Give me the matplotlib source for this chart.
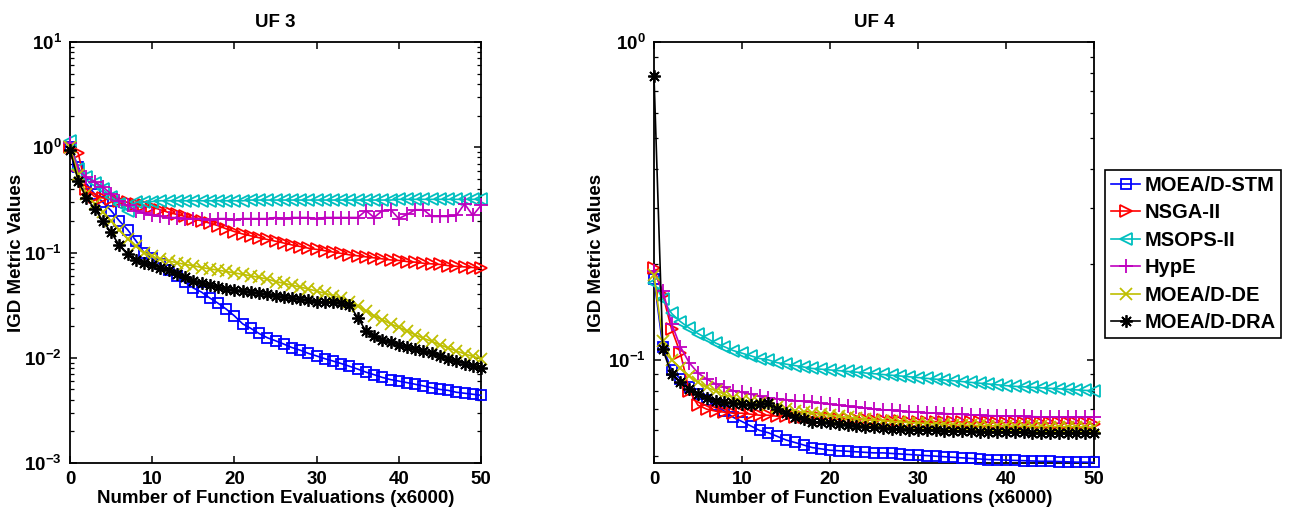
import matplotlib
matplotlib.use("Agg")
import matplotlib.pyplot as plt
from matplotlib.ticker import FuncFormatter, LogLocator, NullFormatter, FixedLocator

# ---------------- data ----------------
evals = list(range(51))  # x (x6000)

names = ["MOEA/D-STM", "NSGA-II", "MSOPS-II", "HypE", "MOEA/D-DE", "MOEA/D-DRA"]

# UF 3
stm3 = [1.0, 0.65, 0.45, 0.36, 0.30, 0.25, 0.20, 0.165, 0.13, 0.10,
        0.088, 0.077, 0.068, 0.060, 0.052, 0.046, 0.042, 0.037, 0.033, 0.029,
        0.025, 0.021, 0.019, 0.017, 0.0155, 0.0145, 0.0135, 0.0125, 0.0118, 0.011,
        0.0104, 0.0098, 0.0093, 0.0088, 0.0083, 0.0078, 0.0073, 0.0069, 0.0065, 0.0062,
        0.0060, 0.0058, 0.0056, 0.0054, 0.0052, 0.0050, 0.0049, 0.0047, 0.0046, 0.0045, 0.0044]
nsga3 = [1.0, 0.88, 0.40, 0.34, 0.33, 0.32, 0.31, 0.30, 0.29, 0.28,
         0.27, 0.255, 0.24, 0.23, 0.22, 0.21, 0.20, 0.19, 0.18, 0.168,
         0.158, 0.150, 0.144, 0.138, 0.133, 0.128, 0.123, 0.118, 0.114, 0.110,
         0.107, 0.104, 0.101, 0.098, 0.095, 0.093, 0.091, 0.089, 0.087, 0.085,
         0.084, 0.082, 0.081, 0.079, 0.078, 0.077, 0.075, 0.074, 0.073, 0.072, 0.071]
msops3 = [1.15, 0.62, 0.52, 0.46, 0.40, 0.34, 0.29, 0.25, 0.30, 0.30,
          0.305, 0.31, 0.31, 0.31, 0.31, 0.31, 0.31, 0.31, 0.31, 0.31,
          0.31, 0.31, 0.315, 0.315, 0.315, 0.315, 0.315, 0.315, 0.315, 0.315,
          0.315, 0.315, 0.315, 0.315, 0.315, 0.315, 0.315, 0.315, 0.315, 0.315,
          0.32, 0.32, 0.32, 0.32, 0.32, 0.32, 0.32, 0.32, 0.32, 0.32, 0.32]
hype3 = [1.1, 0.60, 0.52, 0.47, 0.42, 0.36, 0.31, 0.28, 0.25, 0.235,
         0.225, 0.22, 0.215, 0.215, 0.21, 0.21, 0.21, 0.205, 0.21, 0.21,
         0.205, 0.21, 0.21, 0.21, 0.21, 0.215, 0.21, 0.215, 0.215, 0.215,
         0.21, 0.215, 0.215, 0.215, 0.215, 0.215, 0.25, 0.215, 0.25, 0.255,
         0.21, 0.23, 0.255, 0.255, 0.22, 0.22, 0.22, 0.225, 0.29, 0.225, 0.28]
de3 = [1.0, 0.55, 0.36, 0.29, 0.24, 0.20, 0.165, 0.135, 0.115, 0.10,
       0.092, 0.087, 0.083, 0.080, 0.077, 0.075, 0.072, 0.070, 0.068, 0.066,
       0.064, 0.062, 0.060, 0.058, 0.056, 0.053, 0.051, 0.049, 0.047, 0.045,
       0.043, 0.041, 0.039, 0.037, 0.034, 0.031, 0.028, 0.025, 0.023, 0.021,
       0.0195, 0.018, 0.0165, 0.0153, 0.0143, 0.0133, 0.0124, 0.0116, 0.0109, 0.0103, 0.0098]
dra3 = [0.95, 0.48, 0.33, 0.26, 0.20, 0.155, 0.117, 0.096, 0.085, 0.079,
        0.076, 0.072, 0.068, 0.063, 0.058, 0.054, 0.051, 0.049, 0.047, 0.045,
        0.044, 0.043, 0.042, 0.041, 0.040, 0.039, 0.038, 0.037, 0.036, 0.035,
        0.034, 0.034, 0.034, 0.033, 0.032, 0.024, 0.018, 0.016, 0.0148, 0.014,
        0.0133, 0.0127, 0.0121, 0.0115, 0.011, 0.0104, 0.0098, 0.0093, 0.0088, 0.0084, 0.0080]

# UF 4
stm4 = [0.18, 0.11, 0.093, 0.087, 0.082, 0.078, 0.075, 0.072, 0.069, 0.066,
        0.064, 0.062, 0.060, 0.059, 0.0575, 0.056, 0.055, 0.054, 0.053, 0.0525,
        0.052, 0.0518, 0.0516, 0.0514, 0.0512, 0.051, 0.051, 0.0508, 0.0506, 0.0504,
        0.0502, 0.050, 0.0498, 0.0496, 0.0494, 0.0492, 0.049, 0.0488, 0.0486, 0.0485,
        0.0484, 0.0483, 0.0482, 0.0481, 0.048, 0.048, 0.0479, 0.0478, 0.0477, 0.0477, 0.0476]
nsga4 = [0.195, 0.16, 0.125, 0.105, 0.08, 0.072, 0.070, 0.069, 0.0685, 0.068,
         0.068, 0.0675, 0.067, 0.067, 0.0665, 0.0665, 0.066, 0.066, 0.066, 0.0655,
         0.0655, 0.065, 0.065, 0.065, 0.065, 0.0648, 0.0646, 0.0644, 0.0642, 0.064,
         0.064, 0.064, 0.064, 0.064, 0.064, 0.0638, 0.0638, 0.0636, 0.0636, 0.0635,
         0.0635, 0.0634, 0.0634, 0.0633, 0.0633, 0.0632, 0.0632, 0.0632, 0.0631, 0.0631, 0.063]
msops4 = [0.175, 0.155, 0.14, 0.132, 0.126, 0.121, 0.117, 0.113, 0.110, 0.107,
          0.105, 0.103, 0.101, 0.100, 0.098, 0.097, 0.096, 0.095, 0.094, 0.0935,
          0.093, 0.0925, 0.092, 0.0915, 0.091, 0.0905, 0.09, 0.0895, 0.089, 0.0885,
          0.088, 0.0875, 0.087, 0.0865, 0.086, 0.0855, 0.085, 0.0845, 0.084, 0.0835,
          0.083, 0.0826, 0.0823, 0.082, 0.0817, 0.0814, 0.0811, 0.0808, 0.0805, 0.0802, 0.080]
hype4 = [0.19, 0.165, 0.13, 0.11, 0.098, 0.091, 0.087, 0.084, 0.082, 0.080,
         0.079, 0.078, 0.077, 0.076, 0.0755, 0.075, 0.0745, 0.074, 0.0735, 0.073,
         0.0725, 0.072, 0.0715, 0.071, 0.0705, 0.070, 0.0697, 0.0694, 0.0691, 0.0688,
         0.0685, 0.0682, 0.068, 0.0678, 0.0676, 0.0674, 0.0672, 0.067, 0.0668, 0.0667,
         0.0666, 0.0665, 0.0664, 0.0663, 0.0662, 0.0661, 0.066, 0.066, 0.066, 0.066, 0.066]
de4 = [0.185, 0.115, 0.10, 0.094, 0.089, 0.085, 0.082, 0.080, 0.078, 0.076,
       0.075, 0.074, 0.073, 0.072, 0.071, 0.070, 0.069, 0.0685, 0.068, 0.0675,
       0.067, 0.0665, 0.066, 0.0655, 0.065, 0.0647, 0.0644, 0.0641, 0.0638, 0.0635,
       0.0633, 0.0631, 0.0629, 0.0627, 0.0625, 0.0624, 0.0623, 0.0622, 0.0621, 0.062,
       0.062, 0.0619, 0.0619, 0.0618, 0.0618, 0.0617, 0.0617, 0.0616, 0.0616, 0.0615, 0.0615]
dra4 = [0.78, 0.108, 0.090, 0.085, 0.081, 0.078, 0.076, 0.0745, 0.0735, 0.073,
        0.0725, 0.072, 0.0725, 0.073, 0.070, 0.068, 0.066, 0.065, 0.064, 0.0637,
        0.0635, 0.063, 0.0625, 0.062, 0.0617, 0.0614, 0.0611, 0.0608, 0.0606, 0.0604,
        0.0603, 0.0601, 0.060, 0.0599, 0.0598, 0.0597, 0.0596, 0.0595, 0.0594, 0.0593,
        0.0593, 0.0592, 0.0592, 0.0591, 0.0591, 0.059, 0.059, 0.059, 0.059, 0.059, 0.059]

uf3 = [stm3, nsga3, msops3, hype3, de3, dra3]
uf4 = [stm4, nsga4, msops4, hype4, de4, dra4]

colors = [(0, 0, 1), (1, 0, 0), (0, 0.75, 0.75), (0.75, 0, 0.75), (0.75, 0.75, 0), (0, 0, 0)]
markers = ["s", ">", "<", "+", "x", (8, 2, 0)]
msizes = [7, 8, 8, 10, 8, 9]

# ---------------- style ----------------
plt.rcParams["font.family"] = ["Liberation Sans", "DejaVu Sans"]
plt.rcParams["font.weight"] = "bold"
plt.rcParams["mathtext.fontset"] = "custom"
plt.rcParams["mathtext.rm"] = "Liberation Sans:bold"
plt.rcParams["mathtext.bf"] = "Liberation Sans:bold"
FS = 13.5
LFS = 14.5

fig = plt.figure(figsize=(12.91, 5.12), dpi=100)
ax1 = fig.add_axes([70 / 1291, 1 - 463 / 512, 411 / 1291, 421 / 512])
ax2 = fig.add_axes([654 / 1291, 1 - 463 / 512, 440 / 1291, 421 / 512])


def logfmt(v, pos):
    import math
    e = int(round(math.log10(v)))
    return r"$\mathbf{10^{%d}}$" % e


handles = []
for ax, data, title, ylim, majors in [
    (ax1, uf3, "UF 3", (1e-3, 10), [1e-3, 1e-2, 1e-1, 1, 10]),
    (ax2, uf4, "UF 4", (0.0474, 1.0), [0.1, 1.0]),
]:
    for i, ys in enumerate(data):
        open_marker = markers[i] in ("s", ">", "<")
        (ln,) = ax.plot(evals, ys, color=colors[i], marker=markers[i],
                        markersize=msizes[i],
                        markerfacecolor="none" if open_marker else colors[i],
                        markeredgecolor=colors[i], markeredgewidth=1.3, linewidth=1.2,
                        label=names[i], clip_on=False, zorder=3 + i)
        if ax is ax1:
            handles.append(ln)
    ax.set_yscale("log")
    ax.set_xlim(0, 50)
    ax.set_ylim(*ylim)
    ax.set_xticks([0, 10, 20, 30, 40, 50])
    ax.yaxis.set_major_locator(FixedLocator(majors))
    ax.yaxis.set_major_formatter(FuncFormatter(logfmt))
    ax.yaxis.set_minor_locator(LogLocator(base=10, subs=(2, 3, 4, 5, 6, 7, 8, 9), numticks=20))
    ax.yaxis.set_minor_formatter(NullFormatter())
    ax.tick_params(which="both", direction="in", top=True, right=True)
    ax.tick_params(which="major", length=5, width=1.1, labelsize=FS, pad=6)
    ax.tick_params(which="minor", length=3, width=0.9)
    for lab in ax.get_xticklabels():
        lab.set_fontweight("bold")
    for sp in ax.spines.values():
        sp.set_linewidth(1.3)
    ax.set_title(title, fontsize=FS, fontweight="bold", pad=11)
    ax.set_xlabel("Number of Function Evaluations (x6000)", fontsize=FS,
                  fontweight="bold", labelpad=1)
    ax.set_ylabel("IGD Metric Values", fontsize=FS, fontweight="bold")

ax1.yaxis.set_label_coords((25 - 70) / 411, 0.5)
ax2.yaxis.set_label_coords((605 - 654) / 440, 0.5)

leg = fig.legend(handles=handles, loc="upper left", bbox_to_anchor=(1105 / 1291, 1 - 170 / 512),
                 frameon=True, fancybox=False, edgecolor="black",
                 framealpha=1, borderpad=0.3, handlelength=1.45, handletextpad=0.2,
                 labelspacing=0.42, borderaxespad=0, prop={"weight": "bold", "size": LFS})
leg.get_frame().set_linewidth(1.2)

fig.savefig("out.png", dpi=100)
